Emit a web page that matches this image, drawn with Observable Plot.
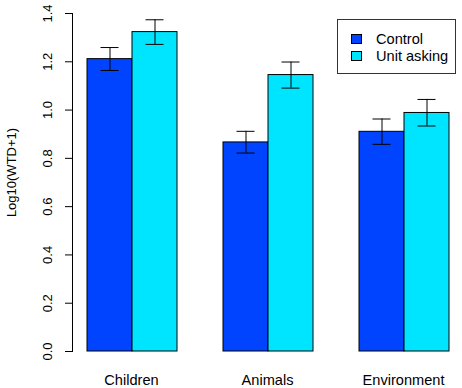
<!DOCTYPE html>
<html>
<head>
<meta charset="utf-8">
<script src="https://cdn.jsdelivr.net/npm/d3@7"></script>
<script src="https://cdn.jsdelivr.net/npm/@observablehq/plot@0.6"></script>
<style>
  html, body { margin: 0; padding: 0; background: #fff; }
  #chart { position: relative; width: 462px; height: 388px; font-family: "Liberation Sans", Arial, sans-serif; }
  #chart svg { display: block; }
  .legend { position: absolute; left: 337px; top: 19px; width: 117px; height: 53px; border: 1px solid #333; background: #fff; font-size: 14.6px; color: #000; }
  .legend .row { position: absolute; left: 13px; display: flex; align-items: center; height: 16px; }
  .legend .sw { width: 9px; height: 8px; border: 1px solid #000; margin-right: 14px; }
</style>
</head>
<body>
<div id="chart"></div>
<script>
const categories = ["Children", "Animals", "Environment"];
const groups = ["Control", "Unit asking"];
const colors = ["#0044ff", "#00e5ff"];
const controlMean = [1.211, 0.866, 0.910];
const controlLo   = [1.164, 0.822, 0.858];
const controlHi   = [1.259, 0.912, 0.963];
const unitMean    = [1.323, 1.145, 0.988];
const unitLo      = [1.272, 1.091, 0.934];
const unitHi      = [1.374, 1.199, 1.044];
const yTicks = [0, 0.2, 0.4, 0.6, 0.8, 1.0, 1.2, 1.4];
const yLabel = "Log10(WTD+1)";

const rows = [];
categories.forEach((c, i) => {
  rows.push({category: c, group: groups[0], mean: controlMean[i], lo: controlLo[i], hi: controlHi[i]});
  rows.push({category: c, group: groups[1], mean: unitMean[i], lo: unitLo[i], hi: unitHi[i]});
});

const plot = Plot.plot({
  width: 462,
  height: 388,
  marginLeft: 71,
  marginRight: 0,
  marginTop: 13,
  marginBottom: 37,
  style: {fontFamily: "'Liberation Sans', Arial, sans-serif", fontSize: "13px", color: "#000", background: "#fff"},
  fx: {domain: categories, paddingInner: 0.1355, paddingOuter: 0, axis: null},
  x: {domain: groups, padding: 0, insetLeft: 14, insetRight: 13, axis: null},
  y: {domain: [0, 1.4], ticks: yTicks, tickFormat: d3.format(".1f"), tickSize: 7, tickPadding: 14, tickRotate: -90, line: true, label: null},
  color: {domain: groups, range: colors},
  marks: [
    Plot.axisFx({anchor: "bottom", tickSize: 0, tickPadding: 23, label: null, fontSize: 14.6}),
    Plot.barY(rows, {fx: "category", x: "group", y: "mean", fill: "group", stroke: "#000", strokeWidth: 1}),
    Plot.ruleX(rows, {fx: "category", x: "group", y1: "lo", y2: "hi", stroke: "#000", strokeWidth: 1}),
    Plot.tickY(rows, {fx: "category", x: "group", y: "lo", stroke: "#000", strokeWidth: 1, insetLeft: 13.5, insetRight: 13.5}),
    Plot.tickY(rows, {fx: "category", x: "group", y: "hi", stroke: "#000", strokeWidth: 1, insetLeft: 13.5, insetRight: 13.5}),
    Plot.text([yLabel], {text: d => d, frameAnchor: "left", facetAnchor: "left", textAnchor: "middle", lineAnchor: "middle",
      rotate: -90, dx: -61, dy: -10, fontSize: 13, fill: "#000"})
  ]
});

const chart = document.getElementById("chart");
chart.appendChild(plot);

const legend = document.createElement("div");
legend.className = "legend";
groups.forEach((g, i) => {
  const row = document.createElement("div");
  row.className = "row";
  row.style.top = (i === 0 ? 11 : 28) + "px";
  const sw = document.createElement("div");
  sw.className = "sw";
  sw.style.background = colors[i];
  const label = document.createElement("span");
  label.textContent = g;
  row.appendChild(sw);
  row.appendChild(label);
  legend.appendChild(row);
});
chart.appendChild(legend);
</script>
</body>
</html>
